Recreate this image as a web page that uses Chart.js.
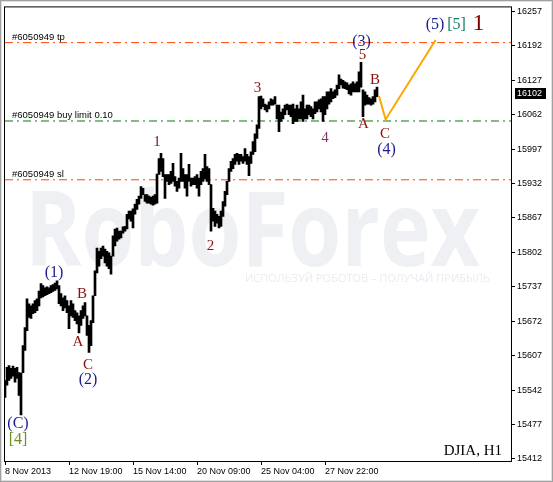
<!DOCTYPE html>
<html>
<head>
<meta charset="utf-8">
<script src="https://cdn.jsdelivr.net/npm/chart.js@4.4.1/dist/chart.umd.min.js"></script>
<style>
  html, body { margin: 0; padding: 0; background: #fff; }
  canvas { display: block; }
</style>
</head>
<body>
<canvas id="djia" width="553" height="482"></canvas>
<script>
// H1 bars (one entry every second bar)
const barLows = [
  15528,15551,15560,15564,15568,15557,15564,15532,15495,15575,
  15617,15654,15679,15677,15686,15688,15692,15701,15716,15718,
  15720,15722,15724,15726,15728,15730,15733,15705,15701,15692,
  15697,15688,15658,15682,15679,15673,15667,15650,15664,15677,
  15682,15645,15613,15626,15669,15720,15763,15776,15790,15795,
  15782,15776,15771,15761,15795,15814,15823,15827,15829,15838,
  15842,15846,15865,15861,15848,15874,15883,15893,15904,15911,
  15898,15895,15895,15893,15891,15893,15895,15949,15955,15945,
  15904,15936,15930,15932,15936,15927,15917,15923,15936,15936,
  15923,15908,15936,15927,15930,15930,15923,15908,15930,15936,
  15941,15936,15930,15842,15861,15851,15857,15848,15851,15870,
  15889,15911,15936,15955,15960,15968,15974,15968,15974,15970,
  15974,15968,15947,15970,15987,15992,16017,16036,16073,16077,
  16071,16067,16073,16080,16080,16082,16054,16030,16049,16054,
  16062,16071,16062,16058,16045,16049,16049,16054,16054,16049,
  16054,16054,16062,16058,16054,16064,16067,16073,16067,16049,
  16062,16073,16082,16086,16092,16094,16099,16111,16118,16112,
  16111,16109,16101,16099,16105,16105,16105,16105,16114,16058,
  16080,16082,16082,16080,16082,16086,16096
];
const barHighs = [
  15560,15585,15588,15583,15587,15583,15585,15575,15574,15626,
  15660,15714,15705,15701,15705,15711,15714,15729,15743,15739,
  15735,15737,15735,15739,15741,15744,15748,15739,15724,15716,
  15720,15711,15701,15711,15705,15692,15688,15682,15692,15701,
  15707,15682,15664,15673,15720,15767,15810,15804,15810,15814,
  15808,15804,15801,15795,15833,15846,15848,15842,15842,15850,
  15851,15874,15880,15880,15884,15893,15902,15908,15926,15923,
  15911,15911,15908,15906,15908,15911,15950,15979,15989,15979,
  15949,15949,15949,15955,15970,15945,15936,15942,15989,15960,
  15949,15949,15968,15942,15942,15945,15949,15942,15955,15960,
  15987,15964,15960,15930,15885,15880,15874,15870,15880,15898,
  15917,15936,15960,15974,15979,15987,15989,15987,15987,15983,
  15998,15987,15983,15992,16011,16026,16043,16096,16097,16092,
  16082,16080,16086,16092,16090,16096,16080,16080,16067,16073,
  16080,16082,16080,16080,16082,16073,16080,16073,16086,16099,
  16073,16080,16080,16077,16073,16086,16086,16090,16092,16096,
  16096,16105,16105,16111,16105,16109,16118,16137,16129,16127,
  16124,16122,16118,16120,16124,16120,16124,16143,16161,16109,
  16105,16099,16094,16092,16096,16109,16114
];
const lastPrice = 16102;

const priceTicks = [15412,15477,15542,15607,15672,15737,15802,15867,15932,15997,16062,16127,16192,16257];
const timeTickBars = [0, 32, 64, 96, 128, 160];
const timeTickLabels = ['8 Nov 2013','12 Nov 19:00','15 Nov 14:00','20 Nov 09:00','25 Nov 04:00','27 Nov 22:00'];

const orderNames = ['#6050949 tp', '#6050949 buy limit 0.10', '#6050949 sl'];
const orderPrices = [16198, 16050, 15939];

// orange forecast path
const forecastBars = [187, 190.3, 215.3];
const forecastPrices = [16097, 16053, 16203];

// wave marks
const waveTexts  = ['(C)','[4]','(1)','A','B','C','(2)','1','2','3','4','5','(3)','A','B','C','(4)','(5)','[5]','1'];
const waveBars   = [6.5, 6.5, 24.5, 36.5, 38.5, 41.5, 41.5, 76, 102.8, 126.2, 160, 178.7, 178.3, 179.2, 185, 190, 190.8, 215, 225.8, 236.7];
const wavePrices = [15478,15448,15763,15633,15724,15590,15562,16011,15814,16112,16017,16174,16200,16045,16127,16026,15995,16231,16231,16233];
const waveKinds  = ['paren','sq4','paren','sub','sub','sub','paren','sub','sub','sub','four','sub','paren','sub','sub','sub','paren','paren','sq5','big'];

const waveStyle = {
  paren: { color: '#1c1c8c', size: 16 },
  sub:   { color: '#8b1010', size: 15 },
  four:  { color: '#7a3a6a', size: 15 },
  sq4:   { color: '#6b8e23', size: 16 },
  sq5:   { color: '#108060', size: 16 },
  big:   { color: '#800000', size: 24 }
};

const tickFont = { family: 'Liberation Sans', size: 9 };

const decor = {
  id: 'decor',
  beforeDraw(chart) {
    const ctx = chart.ctx;
    ctx.save();
    ctx.fillStyle = '#fff';
    ctx.fillRect(0, 0, chart.width, chart.height);
    // watermark
    ctx.fillStyle = '#eef0f4';
    ctx.textBaseline = 'alphabetic';
    ctx.textAlign = 'left';
    ctx.font = 'bold 104px "Open Sans"';
    ctx.fillText('RoboForex', 25, 266, 455);
    ctx.fillStyle = '#e9ecf1';
    ctx.font = '11px "Open Sans"';
    ctx.fillText('ИСПОЛЬЗУЙ РОБОТОВ – ПОЛУЧАЙ ПРИБЫЛЬ', 245, 282, 253);
    ctx.restore();
  },
  afterDatasetsDraw(chart) {
    const ctx = chart.ctx;
    const xs = chart.scales.x, ys = chart.scales.y;
    ctx.save();
    // order line names
    ctx.fillStyle = '#000';
    ctx.font = '9.5px "Liberation Sans"';
    ctx.textAlign = 'left';
    ctx.textBaseline = 'alphabetic';
    orderPrices.forEach((p, i) => {
      ctx.fillText(orderNames[i], 12, ys.getPixelForValue(p) - 3);
    });
    // wave labels
    ctx.textAlign = 'center';
    ctx.textBaseline = 'middle';
    waveTexts.forEach((t, i) => {
      const st = waveStyle[waveKinds[i]];
      ctx.fillStyle = st.color;
      ctx.font = st.size + 'px "Liberation Serif"';
      ctx.fillText(t, xs.getPixelForValue(waveBars[i]), ys.getPixelForValue(wavePrices[i]));
    });
    // symbol
    ctx.fillStyle = '#000';
    ctx.font = '15px "Liberation Serif"';
    ctx.textAlign = 'right';
    ctx.textBaseline = 'alphabetic';
    ctx.fillText('DJIA, H1', 502, 455);
    ctx.restore();
  },
  afterDraw(chart) {
    const ctx = chart.ctx;
    const a = chart.chartArea;
    const ys = chart.scales.y;
    ctx.save();
    ctx.strokeStyle = '#000';
    ctx.lineWidth = 1;
    ctx.strokeRect(a.left - 0.5, a.top - 0.5, a.right - a.left + 1, a.bottom - a.top + 1);
    // current price box
    const py = Math.round(ys.getPixelForValue(lastPrice));
    ctx.fillStyle = '#000';
    ctx.fillRect(515, py - 5, 31, 11);
    ctx.fillStyle = '#fff';
    ctx.font = '9px "Liberation Sans"';
    ctx.textAlign = 'left';
    ctx.textBaseline = 'middle';
    ctx.fillText(String(lastPrice), 517, py + 0.5);
    // window border
    ctx.strokeStyle = '#a0a0a0';
    ctx.strokeRect(0.5, 0.5, chart.width - 1, chart.height - 1);
    ctx.strokeStyle = '#e0e0e0';
    ctx.strokeRect(1.5, 1.5, chart.width - 3, chart.height - 3);
    ctx.restore();
  }
};

const orderSets = orderPrices.map((p, i) => ({
  type: 'line',
  data: [{ x: 0, y: p }, { x: 253, y: p }],
  borderColor: i === 1 ? '#008000' : '#ff4500',
  borderWidth: 1,
  borderDash: [8, 4, 2, 4],
  pointRadius: 0,
  order: 3
}));

new Chart(document.getElementById('djia'), {
  type: 'bar',
  data: {
    datasets: [
      {
        type: 'bar',
        data: barLows.map((lo, i) => ({ x: i, y: [lo, barHighs[i]] })),
        backgroundColor: '#000',
        borderWidth: 0,
        barThickness: 2,
        order: 2
      },
      ...orderSets,
      {
        type: 'line',
        data: forecastBars.map((b, i) => ({ x: b, y: forecastPrices[i] })),
        borderColor: '#ffa500',
        borderWidth: 2,
        pointRadius: 0,
        tension: 0,
        order: 1
      }
    ]
  },
  options: {
    responsive: false,
    animation: false,
    devicePixelRatio: 1,
    layout: { padding: { left: 5, top: 5, right: 0, bottom: 0 } },
    plugins: { legend: { display: false }, tooltip: { enabled: false } },
    scales: {
      x: {
        type: 'linear',
        offset: false,
        min: 0,
        max: 253,
        position: 'bottom',
        afterBuildTicks: s => { s.ticks = timeTickBars.map(v => ({ value: v })); },
        afterFit: s => { s.height = 21; },
        ticks: {
          align: 'start',
          padding: 1,
          maxRotation: 0,
          autoSkip: false,
          color: '#000',
          font: tickFont,
          callback: v => timeTickLabels[timeTickBars.indexOf(v)]
        },
        grid: { offset: false, drawOnChartArea: false, drawTicks: true, tickLength: 4, color: '#000' },
        border: { display: false }
      },
      y: {
        type: 'linear',
        position: 'right',
        min: 15408,
        max: 16264.5,
        afterBuildTicks: s => { s.ticks = priceTicks.map(v => ({ value: v })); },
        afterFit: s => { s.width = 42; },
        ticks: {
          padding: 2,
          color: '#000',
          font: tickFont,
          callback: v => String(v)
        },
        grid: { drawOnChartArea: false, drawTicks: true, tickLength: 4, color: '#000' },
        border: { display: false }
      }
    }
  },
  plugins: [decor]
});
</script>
</body>
</html>
